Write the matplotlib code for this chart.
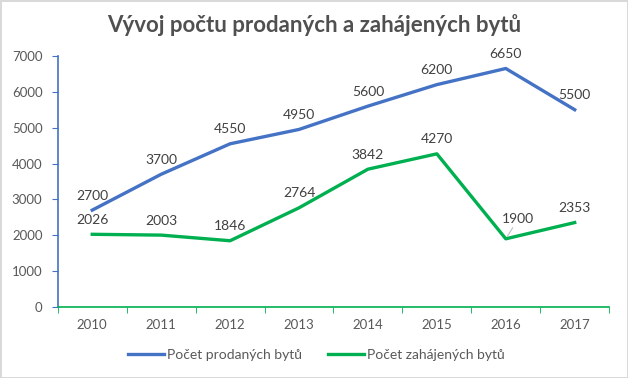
import matplotlib.pyplot as plt

years = ['2010', '2011', '2012', '2013', '2014', '2015', '2016', '2017']
sold = [2700, 3700, 4550, 4950, 5600, 6200, 6650, 5500]
started = [2026, 2003, 1846, 2764, 3842, 4270, 1900, 2353]

plt.rcParams['font.family'] = ['Lato', 'DejaVu Sans']

fig = plt.figure(figsize=(6.28, 3.78), dpi=100)
fig.patch.set_edgecolor('#d9d9d9')
fig.patch.set_linewidth(2)
ax = fig.add_axes([0.092, 0.188, 0.878, 0.664])

x = range(len(years))
ax.plot(x, sold, color='#4472c4', lw=2.4, label='Počet prodaných bytů')
ax.plot(x, started, color='#00b050', lw=2.4, label='Počet zahájených bytů')

for i in x:
    ax.annotate(str(sold[i]), (i, sold[i]), xytext=(0, 6), textcoords='offset points',
                ha='center', va='bottom', fontsize=10, color='#404040')
    # 2016 label sits off to the side with a small leader line
    if i == 6:
        ax.annotate(str(started[i]), (i, started[i]), xytext=(9, 10), textcoords='offset points',
                    ha='center', va='bottom', fontsize=10, color='#404040',
                    arrowprops=dict(arrowstyle='-', color='#bfbfbf', lw=0.8, shrinkA=0, shrinkB=2))
    else:
        ax.annotate(str(started[i]), (i, started[i]), xytext=(0, 6), textcoords='offset points',
                    ha='center', va='bottom', fontsize=10, color='#404040')

ax.set_xlim(-0.5, 7.5)
ax.set_ylim(0, 7000)
ax.set_yticks(range(0, 7001, 1000))
ax.set_xticks(list(x))
ax.set_xticklabels(years)
ax.set_xticks([i + 0.5 for i in range(-1, 8)], minor=True)
ax.tick_params(axis='x', which='major', length=0, pad=9)
ax.tick_params(axis='x', which='minor', length=4, color='#00b050', direction='out')
ax.tick_params(axis='y', length=4, color='#4472c4', pad=7)
ax.tick_params(labelsize=9.5, labelcolor='#595959')

for s in ['top', 'right']:
    ax.spines[s].set_visible(False)
ax.spines['left'].set_color('#4472c4')
ax.spines['bottom'].set_color('#00b050')
ax.spines['left'].set_linewidth(1.2)
ax.spines['bottom'].set_linewidth(1.2)

fig.suptitle('Vývoj počtu prodaných a zahájených bytů', x=0.5, y=0.962, fontsize=16,
             fontweight='bold', color='#505050')
fig.legend(loc='center', bbox_to_anchor=(0.504, 0.062), ncol=2, frameon=False,
           fontsize=10, labelcolor='#595959', handlelength=2.6, handletextpad=0.2,
           columnspacing=1.9)

fig.savefig('out.png', dpi=100, edgecolor=fig.get_edgecolor())
